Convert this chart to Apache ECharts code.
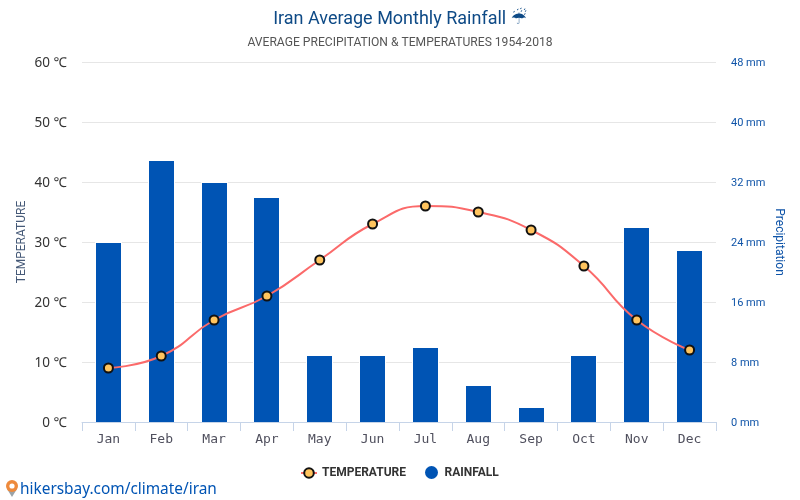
<!DOCTYPE html>
<html>
<head>
<meta charset="utf-8">
<style>html,body{margin:0;padding:0;background:#fff}#chart{width:800px;height:500px}</style>
<script src="https://cdn.jsdelivr.net/npm/echarts@6/dist/echarts.min.js"></script>
</head>
<body>
<div id="chart"></div>
<script>
// Iran climate normals, 1954-2018
const months = ['Jan','Feb','Mar','Apr','May','Jun','Jul','Aug','Sep','Oct','Nov','Dec'];
const temperature = [9, 11, 17, 21, 27, 33, 36, 35, 32, 26, 17, 12];
const rainfall = [24, 35, 32, 30, 9, 9, 10, 5, 2, 9, 26, 23];

const BAR_BLUE = '#0054b4';
const LEGEND_TEXT = {fontFamily: 'Roboto', fontSize: 12, fontWeight: 'bold', color: '#333'};

// Rainfall column: a white keyline behind a solid blue body, both from the axis scales.
function renderRainBar(params, api) {
  const top = api.coord([api.value(0), api.value(1)]);
  const base = api.coord([api.value(0), 0]);
  const left = Math.round(top[0] - 12.5);
  const y = Math.ceil(top[1]);
  return {
    type: 'group',
    children: [
      {type: 'rect', shape: {x: left - 1, y: y, width: 27, height: base[1] - y}, style: {fill: '#fff'}},
      {type: 'rect', shape: {x: left, y: y + 1, width: 25, height: base[1] - y - 1}, style: {fill: BAR_BLUE}}
    ]
  };
}

const chart = echarts.init(document.getElementById('chart'), null, {renderer: 'canvas'});
chart.setOption({
  animation: false,
  backgroundColor: '#fff',
  title: {
    text: 'Iran Average Monthly Rainfall \u2614\uFE0E',
    subtext: 'AVERAGE PRECIPITATION & TEMPERATURES 1954-2018',
    left: 'center',
    top: 5,
    itemGap: 9,
    textStyle: {fontFamily: 'Roboto, "DejaVu Sans"', fontSize: 18, fontWeight: 'normal', color: '#0e4a86'},
    subtextStyle: {fontFamily: 'Roboto', fontSize: 12.1, color: '#555'}
  },
  // Separate legends so the line marker and the rain dot can differ in size
  legend: [{
    top: 462,
    left: 295,
    itemWidth: 16,
    itemHeight: 12,
    textStyle: LEGEND_TEXT,
    data: [{name: 'TEMPERATURE'}]
  }, {
    top: 461,
    left: 420,
    itemWidth: 16,
    itemHeight: 13,
    textStyle: LEGEND_TEXT,
    data: [{name: 'RAINFALL', icon: 'circle', itemStyle: {color: BAR_BLUE}}]
  }],
  grid: {left: 82, right: 84, top: 62, bottom: 78},
  xAxis: {
    type: 'category',
    data: months,
    axisLine: {lineStyle: {color: '#c6d4e8'}},
    axisTick: {show: true, length: 9, alignWithLabel: false, lineStyle: {color: '#c6d4e8'}},
    axisLabel: {fontFamily: 'DejaVu Sans Mono', fontSize: 13, color: '#50505e', margin: 11},
    splitLine: {show: false}
  },
  yAxis: [{
    type: 'value', min: 0, max: 60, interval: 10,
    name: 'TEMPERATURE',
    nameLocation: 'middle',
    nameMoveOverlap: false,
    nameGap: 54,
    nameTextStyle: {fontFamily: 'Roboto', fontSize: 12, color: '#465a78'},
    axisLine: {show: false},
    axisTick: {show: false},
    axisLabel: {formatter: '{value} ℃', fontFamily: '"Noto Sans"', fontSize: 13.5, color: '#333', margin: 15, verticalAlign: 'top', padding: [-6, 0, 0, 0]},
    splitLine: {lineStyle: {color: '#e6e6e6'}}
  }, {
    type: 'value', min: 0, max: 48, interval: 8,
    name: 'Precipitation',
    nameLocation: 'middle',
    nameMoveOverlap: false,
    nameGap: 57,
    nameRotate: -90,
    nameTextStyle: {fontFamily: 'Roboto', fontSize: 12, color: '#0f54a8'},
    axisLine: {show: false},
    axisTick: {show: false},
    axisLabel: {formatter: '{value} mm', fontFamily: 'Roboto', fontSize: 11, color: '#0f54a8', margin: 15, verticalAlign: 'top', padding: [-4, 0, 0, 0]},
    splitLine: {show: false}
  }],
  series: [{
    name: 'RAINFALL',
    type: 'custom',
    yAxisIndex: 1,
    data: rainfall.map((v, i) => [i, v]),
    encode: {x: 0, y: 1},
    renderItem: renderRainBar,
    itemStyle: {color: BAR_BLUE},
    z: 2
  }, {
    name: 'TEMPERATURE',
    type: 'line',
    yAxisIndex: 0,
    data: temperature,
    smooth: true,
    symbol: 'circle',
    symbolSize: 9,
    lineStyle: {color: '#fb6a6a', width: 2},
    itemStyle: {color: '#ffc45e', borderColor: '#111', borderWidth: 2},
    z: 3
  }],
  graphic: [
    // location pin beside the site address
    {type: 'polygon', z: 10, shape: {points: [[7, 489], [17, 489], [12, 497]]}, style: {fill: '#9aa3a8'}},
    {type: 'circle', z: 11, shape: {cx: 12, cy: 486, r: 6}, style: {fill: '#ee8a3c'}},
    {type: 'circle', z: 12, shape: {cx: 12, cy: 486, r: 2.6}, style: {fill: '#fff'}},
    {
      type: 'text',
      z: 10,
      left: 20,
      top: 482,
      style: {text: 'hikersbay.com/climate/iran', font: '15.4px "Noto Sans"', fill: '#0054b4'}
    }
  ]
});
</script>
</body>
</html>
